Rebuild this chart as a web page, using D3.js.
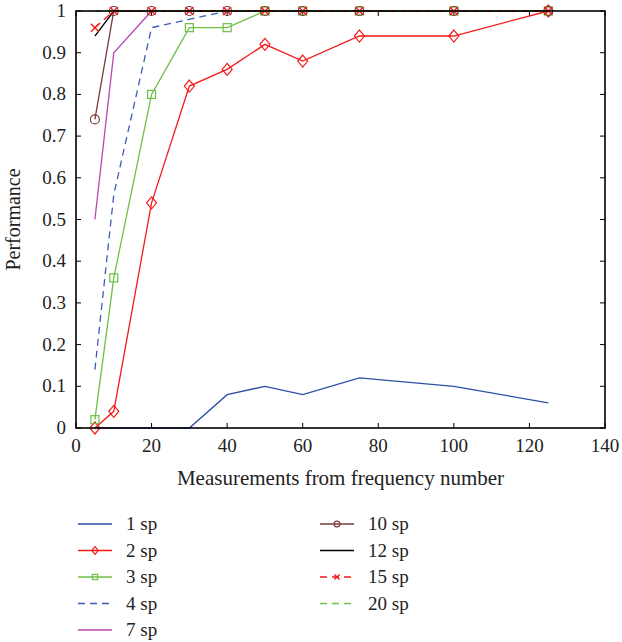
<!DOCTYPE html>
<html><head><meta charset="utf-8">
<script src="https://cdn.jsdelivr.net/npm/d3@7"></script>
<style>body{margin:0;background:#fff}svg{display:block}</style>
</head><body><svg id="c" width="622" height="642" font-family="Liberation Serif, DejaVu Serif, serif"></svg>
<script>
const xs = [5,10,20,30,40,50,60,75,100,125];
const sp1  = [0,0,0,0,0.08,0.10,0.08,0.12,0.10,0.06];
const sp2  = [0,0.04,0.54,0.82,0.86,0.92,0.88,0.94,0.94,1.0];
const sp3  = [0.02,0.36,0.80,0.96,0.96,1,1,1,1,1];
const sp4  = [0.14,0.56,0.96,0.98,1,1,1,1,1,1];
const sp7  = [0.50,0.90,1,1,1,1,1,1,1,1];
const sp10 = [0.74,1,1,1,1,1,1,1,1,1];
const sp12 = [0.94,1,1,1,1,1,1,1,1,1];
const sp15 = [0.96,1,1,1,1,1,1,1,1,1];
const sp20 = [1,1,1,1,1,1,1,1,1,1];
const xTicks = [0,20,40,60,80,100,120,140];
const yTicks = [0,0.1,0.2,0.3,0.4,0.5,0.6,0.7,0.8,0.9,1];
const seriesNames = ["1 sp","2 sp","3 sp","4 sp","7 sp","10 sp","12 sp","15 sp","20 sp"];
const seriesVals = [sp1,sp2,sp3,sp4,sp7,sp10,sp12,sp15,sp20];
const styles = [
 {c:"#2b4ea6",d:null,m:null},
 {c:"#f41a1a",d:null,m:"diamond"},
 {c:"#6cbf47",d:null,m:"square"},
 {c:"#3a5db5",d:"7,5",m:null},
 {c:"#b648b0",d:null,m:null},
 {c:"#7a3b3b",d:null,m:"circle"},
 {c:"#000000",d:null,m:null},
 {c:"#f41a1a",d:"7,5",m:"x"},
 {c:"#6cc24a",d:"7,5",m:null}
];
const svg = d3.select("#c");
const L=76,R=605,T=11,B=428;
const x = d3.scaleLinear().domain([0,140]).range([L,R]);
const y = d3.scaleLinear().domain([0,1]).range([B,T]);
const fs = 19;
const tc = "#222";

const g = svg.append("g");
xTicks.forEach(t=>{
  g.append("line").attr("x1",x(t)).attr("x2",x(t)).attr("y1",B).attr("y2",B-5).attr("stroke","#000");
  g.append("line").attr("x1",x(t)).attr("x2",x(t)).attr("y1",T).attr("y2",T+5).attr("stroke","#000");
  g.append("text").attr("x",x(t)).attr("y",B+24).attr("text-anchor","middle").attr("font-size",fs).attr("fill",tc).text(t);
});
yTicks.forEach(t=>{
  g.append("line").attr("x1",L).attr("x2",L+5).attr("y1",y(t)).attr("y2",y(t)).attr("stroke","#000");
  g.append("line").attr("x1",R).attr("x2",R-5).attr("y1",y(t)).attr("y2",y(t)).attr("stroke","#000");
  g.append("text").attr("x",L-10).attr("y",y(t)+6).attr("text-anchor","end").attr("font-size",fs).attr("fill",tc).text(d3.format("~g")(t));
});

const line = d3.line().x((d,i)=>x(xs[i])).y(d=>y(d));
function marker(sel,type,cx,cy,color,s){
  if(type==="diamond") sel.append("path").attr("d",`M${cx},${cy-6*s}L${cx+5*s},${cy}L${cx},${cy+6*s}L${cx-5*s},${cy}Z`).attr("fill","none").attr("stroke",color).attr("stroke-width",1.2);
  else if(type==="square") sel.append("rect").attr("x",cx-4*s).attr("y",cy-4*s).attr("width",8*s).attr("height",8*s).attr("fill","none").attr("stroke",color).attr("stroke-width",1.2);
  else if(type==="circle") sel.append("circle").attr("cx",cx).attr("cy",cy).attr("r",4.5*s).attr("fill","none").attr("stroke",color).attr("stroke-width",1.2);
  else if(type==="x") sel.append("path").attr("d",`M${cx-4*s},${cy-4*s}L${cx+4*s},${cy+4*s}M${cx-4*s},${cy+4*s}L${cx+4*s},${cy-4*s}`).attr("stroke",color).attr("stroke-width",1.4);
}
const plot = svg.append("g");
seriesVals.forEach((vals,k)=>{
  const s=styles[k];
  plot.append("path").datum(vals).attr("d",line).attr("fill","none").attr("stroke",s.c).attr("stroke-width",1.3).attr("stroke-dasharray",s.d);
  if(s.m) vals.forEach((v,i)=>marker(plot,s.m,x(xs[i]),y(v),s.c,1));
});

svg.append("rect").attr("x",L).attr("y",T).attr("width",R-L).attr("height",B-T).attr("fill","none").attr("stroke","#000").attr("stroke-width",1.6);

svg.append("text").attr("x",(L+R)/2).attr("y",485).attr("text-anchor","middle").attr("font-size",21).attr("fill",tc).text("Measurements from frequency number");
svg.append("text").attr("transform",`translate(20,${(T+B)/2}) rotate(-90)`).attr("text-anchor","middle").attr("font-size",20).attr("fill",tc).text("Performance");

const leg = svg.append("g");
seriesNames.forEach((n,k)=>{
  const col = k<5?0:1, row = k<5?k:k-5;
  const lx = col===0?78:320, ly = 524+row*26.5;
  const s=styles[k];
  leg.append("line").attr("x1",lx).attr("x2",lx+34).attr("y1",ly).attr("y2",ly).attr("stroke",s.c).attr("stroke-width",1.3).attr("stroke-dasharray",s.d);
  if(s.m) marker(leg,s.m,lx+17,ly,s.c,0.65);
  leg.append("text").attr("x",lx+48).attr("y",ly+6).attr("font-size",fs).attr("fill",tc).text(n);
});
</script></body></html>
